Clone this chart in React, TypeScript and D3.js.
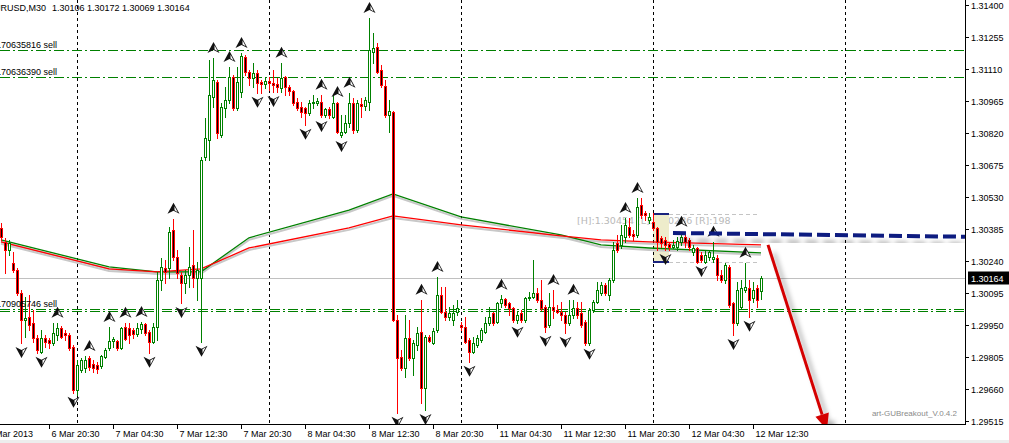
import React from "react";
import * as d3 from "d3";

// ---------- DATA (EURUSD M30, bar index 0 = 6 Mar 2013 14:30) ----------
const openP = [
1.30390,1.30327,1.30290,1.30232,1.30200,1.30096,1.29973,1.29987,1.29960,1.29892,
1.29828,1.29892,1.29883,1.29869,1.29905,1.29937,1.29915,1.29905,1.29851,1.29656,
1.29747,1.29756,1.29801,1.29774,1.29769,1.29765,1.29806,1.29847,1.29878,1.29878,
1.29847,1.29941,1.29937,1.29928,1.29910,1.29932,1.29955,1.29919,1.29874,1.29941,
1.30154,1.30209,1.30209,1.30381,1.30259,1.30177,1.30141,1.30177,1.30222,1.30163,
1.30163,1.30712,1.30789,1.30984,1.31052,1.30811,1.30934,1.30970,1.31074,1.30934,
1.31006,1.31165,1.31097,1.31070,1.31092,1.31052,1.31042,1.31056,1.31047,1.31042,
1.31024,1.31074,1.31029,1.31011,1.30961,1.30938,1.30934,1.30911,1.30956,1.30956,
1.30961,1.30902,1.30929,1.30893,1.30956,1.30811,1.30825,1.30866,1.30956,1.30834,
1.30952,1.30943,1.30961,1.31187,1.31210,1.31106,1.31033,1.30902,1.30916,1.29973,
1.29806,1.29756,1.29892,1.29801,1.29860,1.29919,1.29665,1.29896,1.29869,1.29928,
1.30087,1.30009,1.29987,1.29973,1.30009,1.29951,1.29941,1.29883,1.29828,1.29860,
1.29883,1.29919,1.29960,1.30005,1.29964,1.30050,1.30068,1.30050,1.30027,1.29973,
1.30005,1.29973,1.30073,1.30077,1.30096,1.30064,1.30032,1.29951,1.30032,1.30018,
1.30009,1.29996,1.29960,1.29996,1.30027,1.30005,1.29964,1.29869,1.30018,1.30055,
1.30096,1.30132,1.30087,1.30154,1.30322,1.30313,1.30349,1.30394,1.30363,1.30358,
1.30494,1.30458,1.30426,1.30417,1.30390,1.30345,1.30336,1.30317,1.30304,1.30304,
1.30327,1.30349,1.30336,1.30281,1.30299,1.30268,1.30236,1.30259,1.30249,1.30254,
1.30177,1.30154,1.30213,1.30050,1.29960,1.30032,1.30109,1.30118,1.30073,1.30118,
1.30106];
const highP = [
1.30413,1.30345,1.30336,1.30281,1.30209,1.30109,1.30078,1.30087,1.30018,1.29905,
1.29928,1.29905,1.29892,1.29960,1.29960,1.29946,1.29928,1.29915,1.29860,1.29792,
1.29801,1.29810,1.29810,1.29792,1.29783,1.29815,1.29847,1.29941,1.29896,1.29883,
1.29941,1.29960,1.29960,1.29937,1.29960,1.29964,1.29960,1.29928,1.29960,1.30191,
1.30254,1.30245,1.30394,1.30431,1.30290,1.30191,1.30200,1.30304,1.30381,1.30236,
1.30712,1.30888,1.31151,1.31160,1.31060,1.30956,1.31029,1.31119,1.31083,1.31119,
1.31183,1.31174,1.31106,1.31138,1.31106,1.31060,1.31074,1.31074,1.31106,1.31070,
1.31138,1.31079,1.31038,1.31015,1.30979,1.30961,1.30938,1.30970,1.30993,1.30979,
1.30993,1.30934,1.30938,1.30993,1.30961,1.30902,1.30902,1.31002,1.30979,1.30970,
1.30979,1.30984,1.31341,1.31273,1.31228,1.31128,1.31060,1.30970,1.30920,1.29996,
1.29837,1.29996,1.29973,1.29883,1.29941,1.30064,1.29905,1.29905,1.29937,1.30168,
1.30123,1.30123,1.30032,1.30041,1.30064,1.29964,1.29987,1.29892,1.29896,1.29905,
1.29937,1.29987,1.30032,1.30009,1.30055,1.30087,1.30073,1.30055,1.30032,1.30009,
1.30018,1.30077,1.30100,1.30245,1.30118,1.30154,1.30041,1.30096,1.30109,1.30041,
1.30055,1.30009,1.30064,1.30064,1.30055,1.30055,1.29973,1.30027,1.30064,1.30145,
1.30145,1.30141,1.30163,1.30327,1.30358,1.30404,1.30435,1.30435,1.30381,1.30526,
1.30526,1.30467,1.30458,1.30458,1.30394,1.30354,1.30349,1.30327,1.30336,1.30349,
1.30372,1.30358,1.30345,1.30313,1.30304,1.30281,1.30290,1.30290,1.30327,1.30268,
1.30200,1.30232,1.30222,1.30055,1.30145,1.30154,1.30232,1.30154,1.30145,1.30132,
1.30172];
const lowP = [
1.30336,1.30186,1.30268,1.30191,1.30087,1.29869,1.29896,1.29928,1.29874,1.29824,
1.29824,1.29851,1.29847,1.29860,1.29883,1.29892,1.29883,1.29837,1.29643,1.29634,
1.29738,1.29738,1.29747,1.29738,1.29733,1.29756,1.29801,1.29837,1.29851,1.29837,
1.29842,1.29883,1.29869,1.29892,1.29901,1.29915,1.29905,1.29824,1.29869,1.29883,
1.30109,1.30141,1.30163,1.30245,1.30163,1.30050,1.30096,1.30123,1.30123,1.30064,
1.29874,1.30698,1.30698,1.30938,1.30798,1.30802,1.30893,1.30956,1.30925,1.30925,
1.30984,1.31083,1.31038,1.31029,1.31002,1.31002,1.31024,1.31015,1.31006,1.31006,
1.31006,1.30993,1.30993,1.30947,1.30925,1.30893,1.30857,1.30902,1.30934,1.30947,
1.30893,1.30893,1.30888,1.30888,1.30820,1.30802,1.30820,1.30848,1.30820,1.30825,
1.30893,1.30925,1.30925,1.31138,1.31092,1.31029,1.30893,1.30825,1.29969,1.29552,
1.29747,1.29715,1.29792,1.29724,1.29837,1.29597,1.29565,1.29874,1.29864,1.29919,
1.30005,1.29973,1.29973,1.29951,1.29996,1.29928,1.29869,1.29783,1.29824,1.29851,
1.29874,1.29915,1.29951,1.29951,1.29960,1.30032,1.30032,1.29996,1.29964,1.29960,
1.29964,1.29964,1.30064,1.30073,1.30055,1.30018,1.29919,1.29941,1.29982,1.30005,
1.29973,1.29915,1.29951,1.29982,1.29982,1.29941,1.29860,1.29860,1.30009,1.30050,
1.30087,1.30087,1.30064,1.30145,1.30281,1.30299,1.30327,1.30349,1.30336,1.30349,
1.30435,1.30426,1.30413,1.30381,1.30290,1.30304,1.30290,1.30290,1.30299,1.30290,
1.30313,1.30304,1.30290,1.30268,1.30232,1.30236,1.30232,1.30245,1.30236,1.30154,
1.30145,1.30141,1.30032,1.29905,1.29951,1.30027,1.30100,1.29987,1.30055,1.30032,
1.30069];
const closeP = [
1.30349,1.30290,1.30322,1.30200,1.30096,1.29973,1.29982,1.29951,1.29892,1.29837,
1.29892,1.29874,1.29869,1.29915,1.29937,1.29896,1.29905,1.29847,1.29656,1.29769,
1.29792,1.29792,1.29760,1.29756,1.29751,1.29810,1.29837,1.29878,1.29887,1.29847,
1.29937,1.29887,1.29905,1.29910,1.29937,1.29955,1.29915,1.29874,1.29941,1.30154,
1.30213,1.30191,1.30372,1.30259,1.30186,1.30141,1.30177,1.30213,1.30163,1.30200,
1.30698,1.30798,1.30993,1.31060,1.30820,1.30938,1.30970,1.31074,1.30934,1.31052,
1.31169,1.31097,1.31070,1.31092,1.31047,1.31042,1.31056,1.31047,1.31038,1.31029,
1.31070,1.31029,1.31011,1.30956,1.30934,1.30916,1.30911,1.30956,1.30961,1.30965,
1.30902,1.30929,1.30902,1.30956,1.30825,1.30825,1.30866,1.30956,1.30834,1.30956,
1.30943,1.30970,1.31196,1.31206,1.31097,1.31038,1.30902,1.30920,1.29973,1.29801,
1.29756,1.29892,1.29801,1.29869,1.29915,1.29665,1.29896,1.29878,1.29923,1.30087,
1.30009,1.29987,1.30005,1.30005,1.30027,1.29941,1.29874,1.29828,1.29869,1.29892,
1.29928,1.29960,1.29987,1.29960,1.30050,1.30068,1.30041,1.30027,1.29973,1.29996,
1.29973,1.30073,1.30077,1.30096,1.30064,1.30027,1.29941,1.30032,1.30018,1.30009,
1.29996,1.29960,1.29996,1.30027,1.29996,1.29951,1.29869,1.30018,1.30055,1.30109,
1.30132,1.30096,1.30154,1.30290,1.30290,1.30358,1.30404,1.30358,1.30354,1.30485,
1.30449,1.30449,1.30440,1.30390,1.30327,1.30322,1.30313,1.30304,1.30313,1.30331,
1.30349,1.30327,1.30304,1.30299,1.30236,1.30245,1.30268,1.30281,1.30259,1.30177,
1.30154,1.30222,1.30041,1.29960,1.30109,1.30118,1.30123,1.30064,1.30109,1.30064,
1.30164];

const xTickBars = [-4, 12, 28, 44, 60, 76, 92, 108, 124, 140, 156, 172, 188];
const xTickLabels = ["6 Mar 2013", "6 Mar 20:30", "7 Mar 04:30", "7 Mar 12:30", "7 Mar 20:30",
  "8 Mar 04:30", "8 Mar 12:30", "8 Mar 20:30", "11 Mar 04:30", "11 Mar 12:30",
  "11 Mar 20:30", "12 Mar 04:30", "12 Mar 12:30"];
const daySeparatorBars = [19, 67, 115, 163, 211];
const yTicks = [1.314, 1.31255, 1.3111, 1.30965, 1.3082, 1.30675, 1.3053, 1.30385,
  1.3024, 1.30095, 1.2995, 1.29805, 1.2966, 1.29515];

const fractalUp = [14, 22, 27, 31, 35, 43, 53, 57, 60, 70, 80, 84, 87, 92, 105, 109, 125, 138, 143, 156, 159, 170, 178, 186];
const fractalDown = [5, 10, 18, 37, 45, 50, 64, 68, 76, 80, 85, 99, 106, 117, 129, 136, 141, 147, 166, 175, 183, 187];

const maBars = [0, 20, 27, 39, 50, 62, 87, 98, 115, 140, 150, 162, 190];
const maGreen = [1.30336, 1.30245, 1.30213, 1.30191, 1.30191, 1.30345, 1.30471, 1.30544, 1.30440, 1.30358, 1.30313, 1.30299, 1.30277];
const maRed = [1.30327, 1.30236, 1.30204, 1.30191, 1.30204, 1.30299, 1.30390, 1.30444, 1.30404, 1.30354, 1.30336, 1.30327, 1.30313];

const orderTickets = ["#170635816 sell", "#170636390 sell", "#170905746 sell"];
const orderPrices = [1.31196, 1.31073, 1.30023];
const orderSecondLine = [null, null, 1.30014];

const bidPrice = 1.30164;
const symbolTitle = "EURUSD,M30";
const titleOHLC = "1.30106 1.30172 1.30069 1.30164";
const breakoutHigh = 1.30454;
const breakoutLow = 1.30236;
const breakoutRange = 198;
const breakoutBoxBars = [163, 167];
const breakoutLineEndBar = 189;
const trendBars = [168, 241];
const trendPrices = [1.30367, 1.30350];
const arrowBars = [191.75, 206.5];
const arrowPrices = [1.30313, 1.29475];
const eaLabel = "art-GUBreakout_V.0.4.2";

// ---------- CHART ----------
const W = 1009, H = 443;
const PR = 965, PB = 424;

export default function App() {
  const x = d3.scaleLinear().domain([0, 190]).range([1, 761]);
  const y = d3.scaleLinear().domain([1.29515, 1.314]).range([421, 5]);
  const font = "'Liberation Sans', Arial, sans-serif";
  const n = closeP.length;
  const candles = d3.range(n).map((i) => ({ i, o: openP[i], h: highP[i], l: lowP[i], c: closeP[i] }));

  const ma = d3.line().x((d: any) => x(d[0])).y((d: any) => y(d[1]));
  const gPts = maBars.map((b, k) => [b, maGreen[k]]);
  const rPts = maBars.map((b, k) => [b, maRed[k]]);

  const yH = Math.round(y(breakoutHigh));
  const yL = Math.round(y(breakoutLow));
  const bx0 = Math.round(x(breakoutBoxBars[0]));
  const bx1 = Math.round(x(breakoutBoxBars[1]));
  const bidY = Math.round(y(bidPrice)) + 0.5;

  // arrow geometry
  const ax0 = x(arrowBars[0]), ay0 = y(arrowPrices[0]);
  const ax1 = x(arrowBars[1]), ay1 = y(arrowPrices[1]);
  const ang = Math.atan2(ay1 - ay0, ax1 - ax0);
  const headL = 16, headW = 7;
  const bxh = ax1 - headL * Math.cos(ang), byh = ay1 - headL * Math.sin(ang);
  const px = -Math.sin(ang), py = Math.cos(ang);
  const head = `M${ax1},${ay1} L${bxh + px * headW},${byh + py * headW} L${bxh - px * headW},${byh - py * headW} Z`;

  const glyph = (cx: number, cy: number, s: number) => (
    <g transform={`translate(${cx},${cy}) scale(1,${s})`}>
      <path d="M0,-6 L6,5 L0,2 L-6,5 Z" fill="#111" />
      <path d="M1,-2.6 L4.2,3.4 L1,1.5 Z" fill="#fff" />
    </g>
  );

  const orderColor = "#008000";

  return (
    <div style={{ position: "absolute", left: 0, top: 0 }}>
      <svg width={W} height={H} style={{ display: "block" }}>
        <defs>
          <clipPath id="plot">
            <rect x={0} y={0} width={PR} height={PB} />
          </clipPath>
          <filter id="shadow" x="-20%" y="-50%" width="160%" height="300%">
            <feDropShadow dx="6" dy="8" stdDeviation="2.5" floodColor="#000" floodOpacity="0.35" />
          </filter>
        </defs>
        <rect x={0} y={0} width={W} height={H} fill="#fff" />
        <rect x={0} y={440} width={W} height={3} fill="#ededed" />

        <g clipPath="url(#plot)">
          {/* breakout info text */}
          <text x={577} y={yH + 10} fontFamily="'DejaVu Sans', sans-serif" fontSize={9.5} fill="#b8b8b8">
            {`[H]:${breakoutHigh.toFixed(5)} [L]:${breakoutLow.toFixed(5)} [R]:${breakoutRange}`}
          </text>
          {/* breakout box */}
          <rect x={bx0} y={yH} width={bx1 - bx0} height={yL - yH} fill="#eeeccb" />
          <rect x={bx0} y={yH - 1} width={bx1 - bx0} height={2} fill="#1a237e" />
          <rect x={bx0} y={yL - 1} width={bx1 - bx0} height={2} fill="#1a237e" />
          <line x1={bx1} x2={x(breakoutLineEndBar)} y1={yH + 0.5} y2={yH + 0.5} stroke="#c4c4c4" strokeDasharray="4,3" />
          <line x1={bx1} x2={x(breakoutLineEndBar)} y1={yL + 0.5} y2={yL + 0.5} stroke="#c4c4c4" strokeDasharray="4,3" />

          {/* day separators */}
          {daySeparatorBars.map((b) => (
            <line key={b} x1={Math.round(x(b)) + 0.5} x2={Math.round(x(b)) + 0.5} y1={0} y2={PB}
              stroke="#000" strokeDasharray="3,3" />
          ))}

          {/* order lines */}
          {orderPrices.map((p, k) => {
            const yy = Math.round(y(p)) + 0.5;
            const p2 = orderSecondLine[k];
            return (
              <g key={k}>
                <line x1={0} x2={PR} y1={yy} y2={yy} stroke={orderColor} strokeDasharray="10,3,2,3" />
                {p2 != null && (
                  <line x1={0} x2={PR} y1={Math.round(y(p2)) + 0.5} y2={Math.round(y(p2)) + 0.5}
                    stroke={orderColor} strokeDasharray="10,3,2,3" />
                )}
              </g>
            );
          })}

          {/* bid line */}
          <line x1={0} x2={PR} y1={bidY} y2={bidY} stroke="#c0c0c0" />

          {/* moving averages */}
          <path d={ma(gPts as any) as string} transform="translate(0,2)" fill="none" stroke="#c8c8c8" strokeWidth={2} />
          <path d={ma(rPts as any) as string} transform="translate(0,2)" fill="none" stroke="#c8c8c8" strokeWidth={2} />
          <path d={ma(gPts as any) as string} fill="none" stroke="#008000" strokeWidth={1.3} />
          <path d={ma(rPts as any) as string} fill="none" stroke="#ff0000" strokeWidth={1.3} />

          {/* candles */}
          {candles.map((d) => {
            const cx = Math.round(x(d.i));
            const bull = d.c >= d.o;
            const col = bull ? "#008000" : "#ff0000";
            const yt = Math.round(y(Math.max(d.o, d.c)));
            const yb = Math.round(y(Math.min(d.o, d.c)));
            const yh = Math.round(y(d.h));
            const yl = Math.round(y(d.l));
            const bh = Math.max(0, yb - yt);
            return (
              <g key={d.i}>
                <rect x={cx} y={yh} width={1} height={Math.max(1, yl - yh + 1)} fill={col} />
                <rect x={cx - 1} y={yt} width={3} height={bh + 1} fill={col} />
                {bh > 1 && <rect x={cx} y={yt + 1} width={1} height={bh - 1} fill={bull ? "#fff" : "#000"} />}
              </g>
            );
          })}

          {/* fractals */}
          {fractalUp.map((i) => (
            <g key={"u" + i}>{glyph(Math.round(x(i)) + 0.5, y(highP[i]) - 10, 1)}</g>
          ))}
          {fractalDown.map((i) => (
            <g key={"d" + i}>{glyph(Math.round(x(i)) + 0.5, y(lowP[i]) + 9, -1)}</g>
          ))}

          {/* trend line */}
          <line x1={x(trendBars[0])} x2={x(trendBars[1])} y1={y(trendPrices[0])} y2={y(trendPrices[1])}
            stroke="#0d1a80" strokeWidth={4} strokeDasharray="13,5" filter="url(#shadow)" />

          {/* red arrow */}
          <g filter="url(#shadow)">
            <line x1={ax0} y1={ay0} x2={bxh} y2={byh} stroke="#d40000" strokeWidth={3} />
            <path d={head} fill="#d40000" />
          </g>

          <text x={957} y={416} textAnchor="end" fontFamily={font} fontSize={8} fill="#8a8a8a">{eaLabel}</text>
        </g>

        {/* frame */}
        <line x1={PR + 0.5} x2={PR + 0.5} y1={0} y2={PB + 1} stroke="#000" />
        <line x1={0} x2={PR + 1} y1={PB + 0.5} y2={PB + 0.5} stroke="#000" />

        {/* y axis */}
        {yTicks.map((t) => {
          const yy = Math.round(y(t)) + 0.5;
          return (
            <g key={t}>
              <line x1={PR} x2={PR + 4} y1={yy} y2={yy} stroke="#000" />
              <text x={971} y={yy + 3.5} fontFamily={font} fontSize={9} fill="#000">{t.toFixed(5)}</text>
            </g>
          );
        })}
        <rect x={968} y={bidY - 7} width={41} height={13} fill="#000" />
        <text x={971} y={bidY + 3.5} fontFamily={font} fontSize={9} fill="#fff">{bidPrice.toFixed(5)}</text>

        {/* x axis */}
        {xTickBars.map((b, k) => {
          const xx = Math.round(x(b)) + 0.5;
          return (
            <g key={b}>
              <line x1={xx} x2={xx} y1={PB} y2={PB + 5} stroke="#000" />
              <text x={xx + 2} y={437} fontFamily={font} fontSize={9} fill="#000">{xTickLabels[k]}</text>
            </g>
          );
        })}

        {/* title */}
        <text x={-12} y={10.5} fontFamily={font} fontSize={9} fill="#000">{symbolTitle}</text>
        <text x={52} y={10.5} fontFamily={font} fontSize={9} fill="#000">{titleOHLC}</text>

        {/* order labels */}
        {orderTickets.map((t, k) => (
          <text key={t} x={57} y={Math.round(y(orderPrices[k])) - 2.5} textAnchor="end"
            fontFamily={font} fontSize={9} fill="#000">{t}</text>
        ))}
      </svg>
    </div>
  );
}
